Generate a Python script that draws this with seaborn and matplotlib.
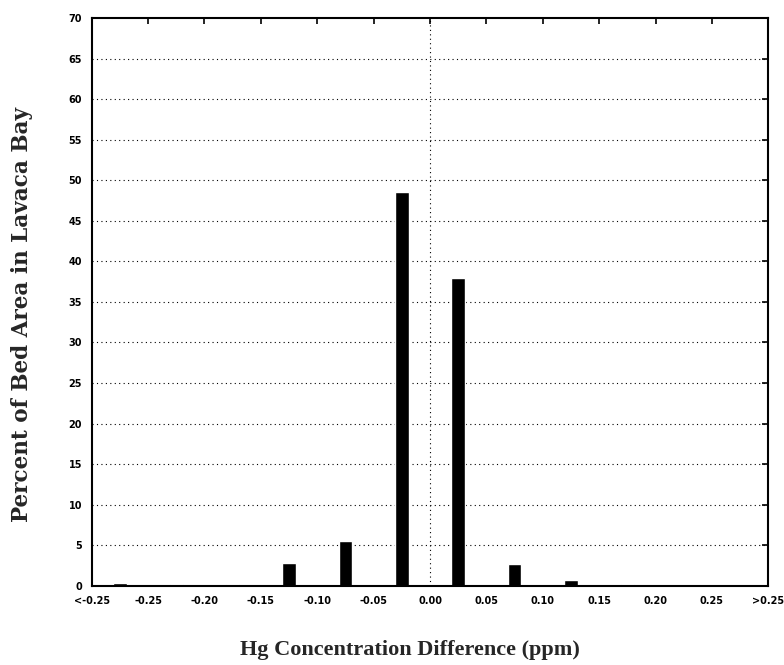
import numpy as np
import pandas as pd
import matplotlib
matplotlib.use("Agg")
import matplotlib.pyplot as plt
import seaborn as sns

edge_labels = ['<-0.25', '-0.25', '-0.20', '-0.15', '-0.10', '-0.05', '0.00',
               '0.05', '0.10', '0.15', '0.20', '0.25', '>0.25']
bins = ['<-0.25 to -0.25', '-0.25 to -0.20', '-0.20 to -0.15', '-0.15 to -0.10',
        '-0.10 to -0.05', '-0.05 to 0.00', '0.00 to 0.05', '0.05 to 0.10',
        '0.10 to 0.15', '0.15 to 0.20', '0.20 to 0.25', '0.25 to >0.25']
percent = [0.4, 0.2, 0.2, 2.8, 5.5, 48.5, 38.0, 2.7, 0.7, 0.2, 0.1, 0.1]

df = pd.DataFrame({'bin': bins, 'percent': percent})

sns.set_style('white')
fig = plt.figure(figsize=(7.84, 6.65), dpi=100)
ax = fig.add_axes([0.117, 0.119, 0.863, 0.854])

sns.barplot(data=df, x='bin', y='percent', color='black', width=0.24,
            saturation=1, ax=ax)

edges = np.arange(len(edge_labels)) - 0.5
ax.set_xlim(edges[0], edges[-1])
ax.set_ylim(0, 70)
ax.set_xticks(edges)
ax.set_xticklabels(edge_labels, fontsize=7, fontweight='bold')
ax.set_yticks(np.arange(0, 75, 5))
ax.set_yticklabels([str(v) for v in range(0, 75, 5)], fontsize=7, fontweight='bold')
ax.tick_params(direction='in', length=4, width=1.2, top=True, right=True,
               colors='black', pad=7)

# dotted grid lines
for v in range(5, 70, 5):
    ax.axhline(v, color='black', linestyle=(0, (1, 3)), linewidth=0.8, zorder=0)
ax.axvline(edges[edge_labels.index('0.00')], color='black',
           linestyle=(0, (1, 3)), linewidth=0.8, zorder=0)

for s in ax.spines.values():
    s.set_color('black')
    s.set_linewidth(1.5)

ax.set_xlabel('')
ax.set_ylabel('')
fig.text(410 / 784, 1 - 650 / 665, 'Hg Concentration Difference (ppm)',
         family='Liberation Serif', fontsize=16, fontweight='bold',
         ha='center', va='center')
fig.text(22 / 784, 1 - 315 / 665, 'Percent of Bed Area in Lavaca Bay',
         family='DejaVu Serif', fontsize=15.5, fontweight='bold',
         rotation=90, ha='center', va='center')

fig.savefig('out.png', dpi=100)
